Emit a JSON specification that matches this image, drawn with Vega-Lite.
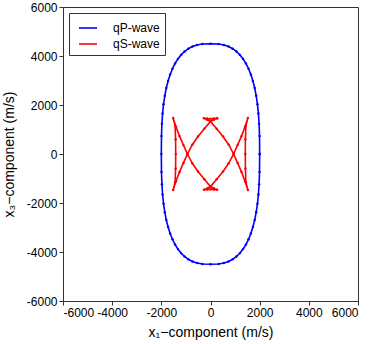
{
  "$schema": "https://vega.github.io/schema/vega-lite/v6.json",
  "width": 295,
  "height": 294,
  "autosize": {"type": "none"},
  "padding": {"left": 63, "top": 7, "right": 16, "bottom": 43},
  "background": "white",
  "config": {
    "font": "Liberation Sans",
    "view": {"stroke": "#333", "strokeWidth": 1},
    "axis": {
      "grid": false,
      "domainColor": "#333",
      "tickColor": "#333",
      "tickSize": 4,
      "labelFont": "Liberation Sans",
      "labelFontSize": 12,
      "labelColor": "#000",
      "titleFont": "Liberation Sans",
      "titleFontSize": 14,
      "titleFontWeight": "normal",
      "titleColor": "#000",
      "labelPadding": 2
    },
    "legend": {
      "labelFont": "Liberation Sans",
      "labelFontSize": 12,
      "labelColor": "#000"
    }
  },
  "data": {
    "values": [
      {"w": "qP-wave", "i": 0, "x": 2000, "y": 0},
      {"w": "qP-wave", "i": 1, "x": 1994, "y": 738},
      {"w": "qP-wave", "i": 2, "x": 1977, "y": 1230},
      {"w": "qP-wave", "i": 3, "x": 1949, "y": 1653},
      {"w": "qP-wave", "i": 4, "x": 1910, "y": 2032},
      {"w": "qP-wave", "i": 5, "x": 1859, "y": 2377},
      {"w": "qP-wave", "i": 6, "x": 1798, "y": 2693},
      {"w": "qP-wave", "i": 7, "x": 1725, "y": 2981},
      {"w": "qP-wave", "i": 8, "x": 1642, "y": 3244},
      {"w": "qP-wave", "i": 9, "x": 1547, "y": 3481},
      {"w": "qP-wave", "i": 10, "x": 1442, "y": 3694},
      {"w": "qP-wave", "i": 11, "x": 1325, "y": 3882},
      {"w": "qP-wave", "i": 12, "x": 1197, "y": 4045},
      {"w": "qP-wave", "i": 13, "x": 1056, "y": 4184},
      {"w": "qP-wave", "i": 14, "x": 903, "y": 4297},
      {"w": "qP-wave", "i": 15, "x": 735, "y": 4386},
      {"w": "qP-wave", "i": 16, "x": 547, "y": 4449},
      {"w": "qP-wave", "i": 17, "x": 328, "y": 4487},
      {"w": "qP-wave", "i": 18, "x": 0, "y": 4500},
      {"w": "qP-wave", "i": 19, "x": -328, "y": 4487},
      {"w": "qP-wave", "i": 20, "x": -547, "y": 4449},
      {"w": "qP-wave", "i": 21, "x": -735, "y": 4386},
      {"w": "qP-wave", "i": 22, "x": -903, "y": 4297},
      {"w": "qP-wave", "i": 23, "x": -1056, "y": 4184},
      {"w": "qP-wave", "i": 24, "x": -1197, "y": 4045},
      {"w": "qP-wave", "i": 25, "x": -1325, "y": 3882},
      {"w": "qP-wave", "i": 26, "x": -1442, "y": 3694},
      {"w": "qP-wave", "i": 27, "x": -1547, "y": 3481},
      {"w": "qP-wave", "i": 28, "x": -1642, "y": 3244},
      {"w": "qP-wave", "i": 29, "x": -1725, "y": 2981},
      {"w": "qP-wave", "i": 30, "x": -1798, "y": 2693},
      {"w": "qP-wave", "i": 31, "x": -1859, "y": 2377},
      {"w": "qP-wave", "i": 32, "x": -1910, "y": 2032},
      {"w": "qP-wave", "i": 33, "x": -1949, "y": 1653},
      {"w": "qP-wave", "i": 34, "x": -1977, "y": 1230},
      {"w": "qP-wave", "i": 35, "x": -1994, "y": 738},
      {"w": "qP-wave", "i": 36, "x": -2000, "y": 0},
      {"w": "qP-wave", "i": 37, "x": -1994, "y": -738},
      {"w": "qP-wave", "i": 38, "x": -1977, "y": -1230},
      {"w": "qP-wave", "i": 39, "x": -1949, "y": -1653},
      {"w": "qP-wave", "i": 40, "x": -1910, "y": -2032},
      {"w": "qP-wave", "i": 41, "x": -1859, "y": -2377},
      {"w": "qP-wave", "i": 42, "x": -1798, "y": -2693},
      {"w": "qP-wave", "i": 43, "x": -1725, "y": -2981},
      {"w": "qP-wave", "i": 44, "x": -1642, "y": -3244},
      {"w": "qP-wave", "i": 45, "x": -1547, "y": -3481},
      {"w": "qP-wave", "i": 46, "x": -1442, "y": -3694},
      {"w": "qP-wave", "i": 47, "x": -1325, "y": -3882},
      {"w": "qP-wave", "i": 48, "x": -1197, "y": -4045},
      {"w": "qP-wave", "i": 49, "x": -1056, "y": -4184},
      {"w": "qP-wave", "i": 50, "x": -903, "y": -4297},
      {"w": "qP-wave", "i": 51, "x": -735, "y": -4386},
      {"w": "qP-wave", "i": 52, "x": -547, "y": -4449},
      {"w": "qP-wave", "i": 53, "x": -328, "y": -4487},
      {"w": "qP-wave", "i": 54, "x": 0, "y": -4500},
      {"w": "qP-wave", "i": 55, "x": 328, "y": -4487},
      {"w": "qP-wave", "i": 56, "x": 547, "y": -4449},
      {"w": "qP-wave", "i": 57, "x": 735, "y": -4386},
      {"w": "qP-wave", "i": 58, "x": 903, "y": -4297},
      {"w": "qP-wave", "i": 59, "x": 1056, "y": -4184},
      {"w": "qP-wave", "i": 60, "x": 1197, "y": -4045},
      {"w": "qP-wave", "i": 61, "x": 1325, "y": -3882},
      {"w": "qP-wave", "i": 62, "x": 1442, "y": -3694},
      {"w": "qP-wave", "i": 63, "x": 1547, "y": -3481},
      {"w": "qP-wave", "i": 64, "x": 1642, "y": -3244},
      {"w": "qP-wave", "i": 65, "x": 1725, "y": -2981},
      {"w": "qP-wave", "i": 66, "x": 1798, "y": -2693},
      {"w": "qP-wave", "i": 67, "x": 1859, "y": -2377},
      {"w": "qP-wave", "i": 68, "x": 1910, "y": -2032},
      {"w": "qP-wave", "i": 69, "x": 1949, "y": -1653},
      {"w": "qP-wave", "i": 70, "x": 1977, "y": -1230},
      {"w": "qP-wave", "i": 71, "x": 1994, "y": -738},
      {"w": "qP-wave", "i": 72, "x": 2000, "y": 0},
      {"w": "qS-wave", "i": 0, "x": 270, "y": 1460},
      {"w": "qS-wave", "i": 1, "x": 135, "y": 1445},
      {"w": "qS-wave", "i": 2, "x": 0, "y": 1440},
      {"w": "qS-wave", "i": 3, "x": -135, "y": 1445},
      {"w": "qS-wave", "i": 4, "x": -270, "y": 1460},
      {"w": "qS-wave", "i": 5, "x": -130, "y": 1395},
      {"w": "qS-wave", "i": 6, "x": 0, "y": 1330},
      {"w": "qS-wave", "i": 7, "x": 250, "y": 1030},
      {"w": "qS-wave", "i": 8, "x": 510, "y": 715},
      {"w": "qS-wave", "i": 9, "x": 740, "y": 380},
      {"w": "qS-wave", "i": 10, "x": 940, "y": 0},
      {"w": "qS-wave", "i": 11, "x": 1105, "y": -370},
      {"w": "qS-wave", "i": 12, "x": 1260, "y": -730},
      {"w": "qS-wave", "i": 13, "x": 1400, "y": -1100},
      {"w": "qS-wave", "i": 14, "x": 1520, "y": -1467},
      {"w": "qS-wave", "i": 15, "x": 1440, "y": -1150},
      {"w": "qS-wave", "i": 16, "x": 1420, "y": -600},
      {"w": "qS-wave", "i": 17, "x": 1415, "y": 0},
      {"w": "qS-wave", "i": 18, "x": 1420, "y": 600},
      {"w": "qS-wave", "i": 19, "x": 1440, "y": 1150},
      {"w": "qS-wave", "i": 20, "x": 1520, "y": 1467},
      {"w": "qS-wave", "i": 21, "x": 1400, "y": 1100},
      {"w": "qS-wave", "i": 22, "x": 1260, "y": 730},
      {"w": "qS-wave", "i": 23, "x": 1105, "y": 370},
      {"w": "qS-wave", "i": 24, "x": 940, "y": 0},
      {"w": "qS-wave", "i": 25, "x": 740, "y": -380},
      {"w": "qS-wave", "i": 26, "x": 510, "y": -715},
      {"w": "qS-wave", "i": 27, "x": 250, "y": -1030},
      {"w": "qS-wave", "i": 28, "x": 0, "y": -1330},
      {"w": "qS-wave", "i": 29, "x": -130, "y": -1395},
      {"w": "qS-wave", "i": 30, "x": -270, "y": -1460},
      {"w": "qS-wave", "i": 31, "x": -135, "y": -1445},
      {"w": "qS-wave", "i": 32, "x": 0, "y": -1440},
      {"w": "qS-wave", "i": 33, "x": 135, "y": -1445},
      {"w": "qS-wave", "i": 34, "x": 270, "y": -1460},
      {"w": "qS-wave", "i": 35, "x": 130, "y": -1395},
      {"w": "qS-wave", "i": 36, "x": 0, "y": -1330},
      {"w": "qS-wave", "i": 37, "x": -250, "y": -1030},
      {"w": "qS-wave", "i": 38, "x": -510, "y": -715},
      {"w": "qS-wave", "i": 39, "x": -740, "y": -380},
      {"w": "qS-wave", "i": 40, "x": -940, "y": 0},
      {"w": "qS-wave", "i": 41, "x": -1105, "y": 370},
      {"w": "qS-wave", "i": 42, "x": -1260, "y": 730},
      {"w": "qS-wave", "i": 43, "x": -1400, "y": 1100},
      {"w": "qS-wave", "i": 44, "x": -1520, "y": 1467},
      {"w": "qS-wave", "i": 45, "x": -1440, "y": 1150},
      {"w": "qS-wave", "i": 46, "x": -1420, "y": 600},
      {"w": "qS-wave", "i": 47, "x": -1415, "y": 0},
      {"w": "qS-wave", "i": 48, "x": -1420, "y": -600},
      {"w": "qS-wave", "i": 49, "x": -1440, "y": -1150},
      {"w": "qS-wave", "i": 50, "x": -1520, "y": -1467},
      {"w": "qS-wave", "i": 51, "x": -1400, "y": -1100},
      {"w": "qS-wave", "i": 52, "x": -1260, "y": -730},
      {"w": "qS-wave", "i": 53, "x": -1105, "y": -370},
      {"w": "qS-wave", "i": 54, "x": -940, "y": 0},
      {"w": "qS-wave", "i": 55, "x": -740, "y": 380},
      {"w": "qS-wave", "i": 56, "x": -510, "y": 715},
      {"w": "qS-wave", "i": 57, "x": -250, "y": 1030},
      {"w": "qS-wave", "i": 58, "x": 0, "y": 1330},
      {"w": "qS-wave", "i": 59, "x": 130, "y": 1395},
      {"w": "qS-wave", "i": 60, "x": 270, "y": 1460}
    ]
  },
  "mark": {"type": "line", "strokeWidth": 1.6, "point": {"filled": true, "size": 6}},
  "encoding": {
    "x": {
      "field": "x",
      "type": "quantitative",
      "scale": {"domain": [-6000, 6000], "nice": false},
      "axis": {
        "values": [-6000, -4000, -2000, 0, 2000, 4000, 6000],
        "labelExpr": "'' + datum.value",
        "title": "x₁−component (m/s)",
        "titlePadding": 7
      }
    },
    "y": {
      "field": "y",
      "type": "quantitative",
      "scale": {"domain": [-6000, 6000], "nice": false},
      "axis": {
        "values": [-6000, -4000, -2000, 0, 2000, 4000, 6000],
        "labelExpr": "'' + datum.value",
        "title": "x₃−component (m/s)",
        "titlePadding": 10
      }
    },
    "color": {
      "field": "w",
      "type": "nominal",
      "scale": {"domain": ["qP-wave", "qS-wave"], "range": ["#0000ff", "#ff0000"]},
      "legend": {
        "title": null,
        "orient": "none",
        "legendX": 6,
        "legendY": 6,
        "symbolType": "stroke",
        "symbolSize": 324,
        "symbolStrokeWidth": 1.6,
        "symbolOffset": 4,
        "labelOffset": 15,
        "rowPadding": 0,
        "padding": 5,
        "strokeColor": "#333",
        "fillColor": "white"
      }
    },
    "order": {"field": "i", "type": "quantitative"}
  }
}
